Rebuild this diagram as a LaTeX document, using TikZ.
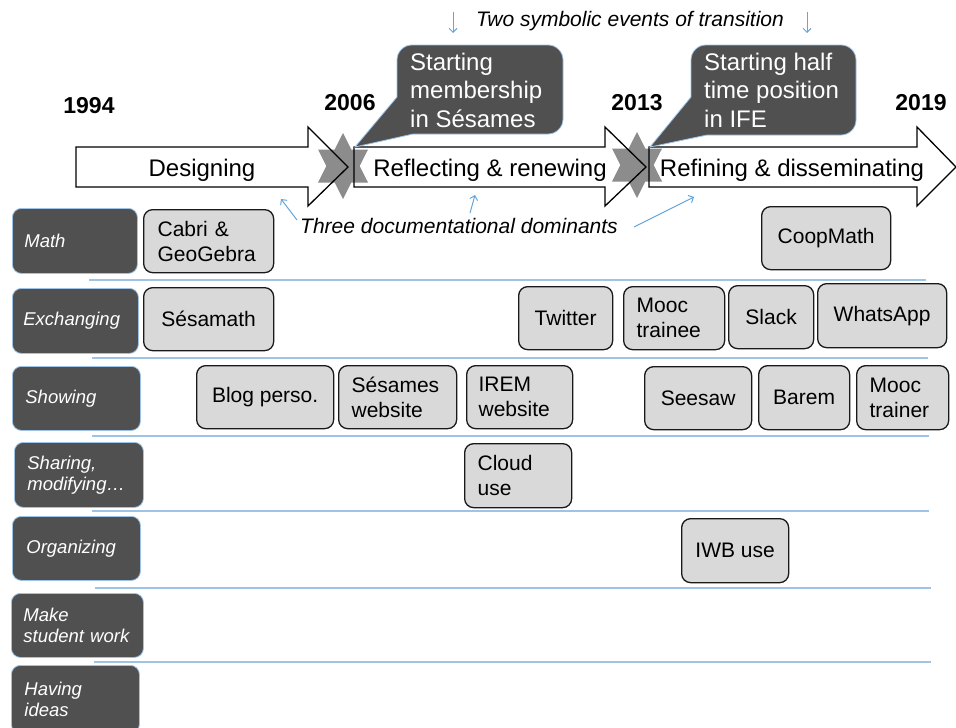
\documentclass[tikz,border=0pt]{standalone}
\usepackage{fontspec}
\setmainfont{Liberation Sans}
\usetikzlibrary{arrows.meta}
\definecolor{dkgrey}{RGB}{80,80,80}
\definecolor{lineblue}{RGB}{157,195,230}
\definecolor{annblue}{RGB}{100,165,220}
\definecolor{itemfill}{RGB}{217,217,217}
\definecolor{stargrey}{RGB}{140,140,140}
\tikzset{
  itembox/.style={draw=black!90, line width=1.3pt, fill=itemfill, rounded corners=9pt,
    font=\fontsize{21}{25}\selectfont, anchor=north west, inner ysep=0pt},
  rowlab/.style={draw=lineblue, line width=0.8pt, fill=dkgrey, rounded corners=9pt,
    text=white, font=\fontsize{18.5}{21}\selectfont\itshape, anchor=north west,
    align=left, inner ysep=0pt},
  sepline/.style={draw=lineblue, line width=1.6pt},
  blockarrow/.style={draw=black, line width=1.3pt, line join=miter},
  arrowtext/.style={font=\fontsize{24}{28}\selectfont, anchor=base, inner sep=0pt},
  yeartext/.style={font=\fontsize{23}{27}\selectfont\bfseries, anchor=base, inner sep=0pt},
  anntext/.style={font=\fontsize{21}{25}\selectfont\itshape, anchor=base, inner sep=0pt},
  calloutshape/.style={fill=dkgrey, draw=lineblue, line width=0.8pt},
  callouttext/.style={font=\fontsize{24}{28.5}\selectfont, text=white, align=left, anchor=west, inner sep=0pt},
  annarrow/.style={draw=annblue, line width=1pt, -{Straight Barb[length=4pt,width=8pt]}},
  starfill/.style={fill=stargrey}
}
\begin{document}
\begin{tikzpicture}[x=1pt,y=-1pt]
\useasboundingbox (0,0) rectangle (956,728);

% separator lines
\draw[sepline] (89,280) -- (926,280);
\draw[sepline] (92,358) -- (928,358);
\draw[sepline] (92,436) -- (929,436);
\draw[sepline] (92,511) -- (929,511);
\draw[sepline] (95,588) -- (931,588);
\draw[sepline] (94,662) -- (931,662);

% block arrow fills
\fill[white] (76,147) -- (308,147) -- (308,127) -- (348,167) -- (308,206) -- (308,187) -- (76,187) -- cycle;
\fill[white] (354,147) -- (605,147) -- (605,127) -- (646,167) -- (605,206) -- (605,187) -- (354,187) -- cycle;
\fill[white] (649,147) -- (917,147) -- (917,127) -- (956,167) -- (917,206) -- (917,187) -- (649,187) -- cycle;

% stars
\foreach \cx/\cy in {343/166, 637/165}{
  \fill[starfill] (\cx,\cy-33) -- (\cx+8.3,\cy-16.5) -- (\cx+25,\cy-16.5) -- (\cx+16.7,\cy)
    -- (\cx+25,\cy+16.5) -- (\cx+8.3,\cy+16.5) -- (\cx,\cy+33) -- (\cx-8.3,\cy+16.5)
    -- (\cx-25,\cy+16.5) -- (\cx-16.7,\cy) -- (\cx-25,\cy-16.5) -- (\cx-8.3,\cy-16.5) -- cycle;
}

% block arrow outlines
\draw[blockarrow] (76,147) -- (308,147) -- (308,127) -- (348,167) -- (308,206) -- (308,187) -- (76,187) -- cycle;
\draw[blockarrow] (354,147) -- (605,147) -- (605,127) -- (646,167) -- (605,206) -- (605,187) -- (354,187) -- cycle;
\draw[blockarrow] (649,147) -- (917,147) -- (917,127) -- (956,167) -- (917,206) -- (917,187) -- (649,187) -- cycle;

\node[arrowtext] (designing) at (202,176) {Designing};
\node[arrowtext] (reflecting) at (490,176) {Reflecting \& renewing};
\node[arrowtext] (refining) at (792,176) {Refining \& disseminating};

% callouts
\draw[calloutshape] (412,45) -- (548,45) .. controls (556.3,45) and (563,51.7) .. (563,60)
  -- (563,119) .. controls (563,127.3) and (556.3,134) .. (548,134) -- (413,134)
  -- (355,147) -- (397,97) -- (397,60) .. controls (397,51.7) and (403.7,45) .. (412,45) -- cycle;
\node[callouttext] (call1) at (410,90) {Starting\\membership\\in Sésames};

\draw[calloutshape] (706,45) -- (841,45) .. controls (849.3,45) and (856,51.7) .. (856,60)
  -- (856,120) .. controls (856,128.3) and (849.3,135) .. (841,135) -- (707,135)
  -- (650,147) -- (691,97) -- (691,60) .. controls (691,51.7) and (697.7,45) .. (706,45) -- cycle;
\node[callouttext] (call2) at (704,90) {Starting half\\time position\\in IFE};

% years
\node[yeartext] (y1994) at (89,113) {1994};
\node[yeartext] (y2006) at (350,110) {2006};
\node[yeartext] (y2013) at (637,110) {2013};
\node[yeartext] (y2019) at (921,110) {2019};

% annotations
\node[anntext] (twoev) at (630,27) {Two symbolic events of transition};
\coordinate (t1a) at (453,12); \coordinate (t1b) at (453,33);
\coordinate (t2a) at (807,12); \coordinate (t2b) at (807,33);
\draw[annarrow] (t1a) -- (t1b);
\draw[annarrow] (t2a) -- (t2b);

\node[anntext] (threed) at (459,233) {Three documentational dominants};
\coordinate (d1a) at (297,220); \coordinate (d1b) at (281,199);
\coordinate (d2a) at (470,213); \coordinate (d2b) at (475,195);
\coordinate (d3a) at (634,227); \coordinate (d3b) at (694,197);
\draw[annarrow] (d1a) -- (d1b);
\draw[annarrow] (d2a) -- (d2b);
\draw[annarrow] (d3a) -- (d3b);

% row labels
\node[rowlab, minimum width=125pt, minimum height=65pt, text width=101pt, inner xsep=12pt] (rmath) at (12,208) {Math};
\node[rowlab, minimum width=126pt, minimum height=65pt, text width=104pt, inner xsep=11pt] (rexch) at (12,288) {Exchanging};
\node[rowlab, minimum width=128pt, minimum height=64pt, text width=102pt, inner xsep=13pt] (rshow) at (12,366) {Showing};
\node[rowlab, minimum width=129pt, minimum height=65pt, text width=103pt, inner xsep=13pt] (rshar) at (14,442) {Sharing,\\modifying…};
\node[rowlab, minimum width=128pt, minimum height=64pt, text width=100pt, inner xsep=14pt] (rorg) at (12,516) {Organizing};
\node[rowlab, minimum width=132pt, minimum height=64pt, text width=108pt, inner xsep=12pt] (rmake) at (11,593) {Make\\student work};
\node[rowlab, minimum width=128pt, minimum height=68pt, text width=102pt, inner xsep=13pt] (rhave) at (11,665) {Having\\ideas};

% items
\node[itembox, minimum width=130pt, minimum height=63pt, text width=102pt, inner xsep=14pt, align=left] (cabri) at (143,209) {Cabri \&\\GeoGebra};
\node[itembox, minimum width=129pt, minimum height=63pt, align=center] (coop) at (761,206) {CoopMath};
\node[itembox, minimum width=130pt, minimum height=63pt, align=center] (sesamath) at (143,287) {Sésamath};
\node[itembox, minimum width=94pt, minimum height=63pt, align=center] (twitter) at (518,286) {Twitter};
\node[itembox, minimum width=101pt, minimum height=63pt, text width=75pt, inner xsep=13pt, align=left] (mooct) at (623,286) {Mooc\\trainee};
\node[itembox, minimum width=85pt, minimum height=63pt, align=center] (slack) at (728,285) {Slack};
\node[itembox, minimum width=129pt, minimum height=64pt, align=center] (whatsapp) at (817,283) {WhatsApp};
\node[itembox, minimum width=137pt, minimum height=63pt, align=center] (blog) at (196,365) {Blog perso.};
\node[itembox, minimum width=118pt, minimum height=63pt, text width=92pt, inner xsep=13pt, align=left] (sesweb) at (338,365) {Sésames\\website};
\node[itembox, minimum width=106pt, minimum height=63pt, text width=82pt, inner xsep=12pt, align=left] (iremweb) at (466,365) {IREM\\website};
\node[itembox, minimum width=107pt, minimum height=63pt, align=center] (seesaw) at (644,366) {Seesaw};
\node[itembox, minimum width=91pt, minimum height=64pt, align=center] (barem) at (758,365) {Barem};
\node[itembox, minimum width=92pt, minimum height=64pt, text width=66pt, inner xsep=13pt, align=left] (mooctr) at (856,365) {Mooc\\trainer};
\node[itembox, minimum width=107pt, minimum height=64pt, text width=81pt, inner xsep=13pt, align=left] (cloud) at (464,443) {Cloud\\use};
\node[itembox, minimum width=107pt, minimum height=64pt, align=center] (iwb) at (681,518) {IWB use};
\end{tikzpicture}
\end{document}
